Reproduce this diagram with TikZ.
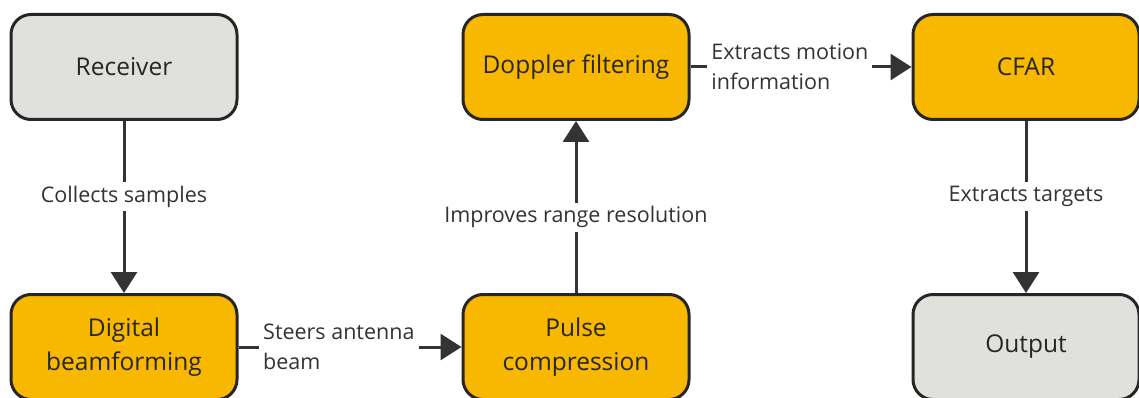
\documentclass[tikz,border=0pt]{standalone}
\usepackage{fontspec}
\setmainfont{Open Sans}
\usetikzlibrary{arrows.meta}
\definecolor{boxgray}{RGB}{224, 225, 221}
\definecolor{boxorange}{RGB}{249, 184, 0}
\definecolor{edgedark}{RGB}{51, 51, 51}

\begin{document}
\begin{tikzpicture}[x=1pt, y=-1pt,
    stage/.style={draw=black!85, line width=3pt, rounded corners=20pt,
        minimum width=226pt, minimum height=105pt, align=center,
        text=black!85, font=\fontsize{24.5}{34}\selectfont},
    link/.style={draw=edgedark, line width=3pt,
        -{Triangle[length=21pt, width=26pt]}},
    tag/.style={fill=white, text=edgedark, font=\fontsize{21.5}{30}\selectfont,
        inner sep=4pt}]
    \useasboundingbox (0, 0) rectangle (1139, 398);

    \node[stage, fill=boxgray] (receiver) at (124, 67) {Receiver};
    \node[stage, fill=boxorange] (beamforming) at (124, 347) {Digital\\beamforming};
    \node[stage, fill=boxorange] (compression) at (576, 347) {Pulse\\compression};
    \node[stage, fill=boxorange] (doppler) at (576, 67) {Doppler filtering};
    \node[stage, fill=boxorange] (cfar) at (1026, 67) {CFAR};
    \node[stage, fill=boxgray] (output) at (1026, 347) {Output};

    \draw[link] (receiver) -- node[tag, pos=0.44] {Collects samples} (beamforming);
    \draw[link] (beamforming) -- node[tag, align=left, pos=0.45] {Steers antenna\\beam} (compression);
    \draw[link] (compression) -- node[tag, pos=0.44] {Improves range resolution} (doppler);
    \draw[link] (doppler) -- node[tag, align=left, pos=0.45] {Extracts motion\\information} (cfar);
    \draw[link] (cfar) -- node[tag, pos=0.44] {Extracts targets} (output);
\end{tikzpicture}
\end{document}
